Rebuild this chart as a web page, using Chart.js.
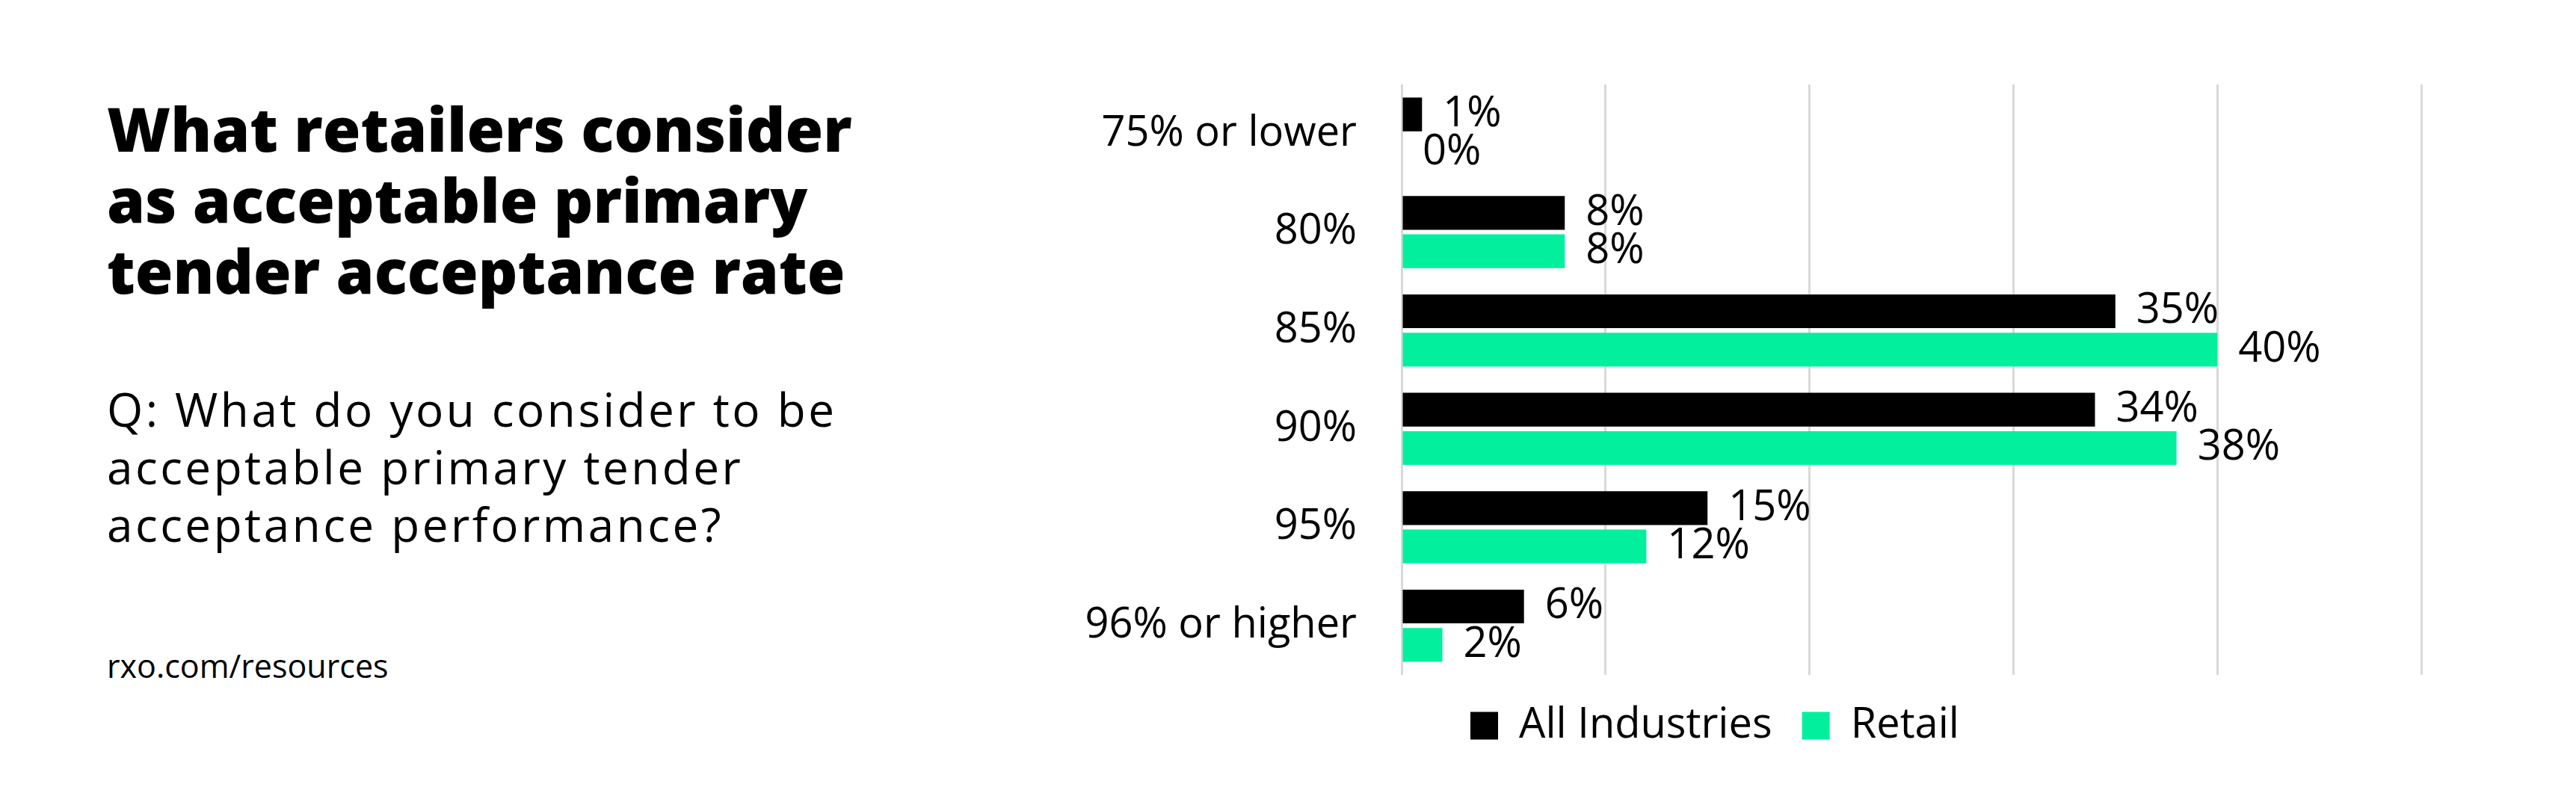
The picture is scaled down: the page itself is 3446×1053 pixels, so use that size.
<!DOCTYPE html>
<html>
<head>
<meta charset="utf-8">
<script src="https://cdn.jsdelivr.net/npm/chart.js@4"></script>
<style>
  html, body { margin:0; padding:0; background:#fff; }
  body { width:3446px; height:1053px; position:relative; overflow:hidden; font-family:"Open Sans", sans-serif; color:#000; }
  .title { position:absolute; left:143px; top:124px; font-size:82px; line-height:95px; font-weight:800; letter-spacing:0px; }
  .question { position:absolute; left:143px; top:509px; font-size:62px; line-height:77px; font-weight:400; letter-spacing:3.5px; }
  .source { position:absolute; left:143px; top:866px; font-size:43px; line-height:50px; }
  .chart-wrap { position:absolute; left:1349px; top:0; width:2097px; height:1053px; }
</style>
</head>
<body>
<div class="title">What retailers consider<br>as acceptable primary<br>tender acceptance rate</div>
<div class="question">Q: What do you consider to be<br>acceptable primary tender<br>acceptance performance?</div>
<div class="source">rxo.com/resources</div>
<div class="chart-wrap"><canvas id="chart"></canvas></div>

<script>
const categories = ["75% or lower", "80%", "85%", "90%", "95%", "96% or higher"];
const allIndustries = [1, 8, 35, 34, 15, 6];
const retail = [0, 8, 40, 38, 12, 2];
const xTicks = [0, 10, 20, 30, 40, 50];

Chart.defaults.font.family = "'Open Sans', sans-serif";
Chart.defaults.color = "#000";

// value labels at the end of each bar
const barLabels = {
  id: "barLabels",
  afterDatasetsDraw(chart) {
    const ctx = chart.ctx;
    ctx.save();
    ctx.font = "56px 'Open Sans', sans-serif";
    ctx.fillStyle = "#000";
    ctx.textAlign = "left";
    ctx.textBaseline = "middle";
    chart.data.datasets.forEach((ds, i) => {
      chart.getDatasetMeta(i).data.forEach((bar, j) => {
        ctx.fillText(ds.data[j] + "%", bar.x + 28, bar.y);
      });
    });
    ctx.restore();
  }
};

new Chart(document.getElementById("chart"), {
  type: "bar",
  data: {
    labels: categories,
    datasets: [
      { label: "All Industries", data: allIndustries, backgroundColor: "#000000", categoryPercentage: 0.78, barPercentage: 0.88 },
      { label: "Retail", data: retail, backgroundColor: "#02F09E", categoryPercentage: 0.78, barPercentage: 0.88 }
    ]
  },
  options: {
    indexAxis: "y",
    responsive: true,
    maintainAspectRatio: false,
    animation: false,
    layout: { padding: { top: 113, bottom: 44, left: 0, right: 207 } },
    scales: {
      x: {
        min: xTicks[0],
        max: xTicks[xTicks.length - 1],
        afterBuildTicks: s => { s.ticks = xTicks.map(v => ({ value: v })); },
        ticks: { display: false },
        grid: { color: "#d9d9d9", lineWidth: 3, drawTicks: false },
        border: { display: false }
      },
      y: {
        afterFit: s => { s.width = 526; },
        ticks: { font: { size: 56 }, padding: 60, color: "#000" },
        grid: { display: false, drawTicks: false },
        border: { display: false }
      }
    },
    plugins: {
      legend: {
        position: "bottom",
        labels: { boxWidth: 37, boxHeight: 37, padding: 40, font: { size: 56 }, color: "#000" }
      },
      tooltip: { enabled: false }
    }
  },
  plugins: [barLabels]
});
</script>
</body>
</html>
